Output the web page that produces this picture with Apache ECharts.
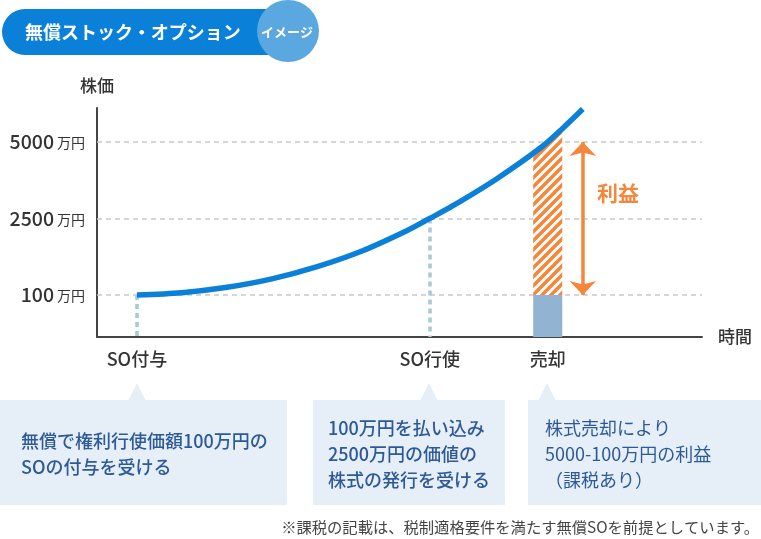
<!DOCTYPE html>
<html><head><meta charset="utf-8">
<script src="https://cdn.jsdelivr.net/npm/echarts@6/dist/echarts.min.js"></script>
<style>html,body{margin:0;padding:0;background:#fff}#c{width:761px;height:539px}</style>
</head><body><div id="c"></div>
<script>
// ---- data ----
const timeline   = [6.6, 14.0, 21.5, 28.9, 36.4, 43.8, 51.2, 55.0, 58.7, 66.1, 73.6, 77.0, 80.3];
const priceLevel = [1.00, 1.03, 1.10, 1.21, 1.37, 1.575, 1.84, 2.00, 2.16, 2.52, 2.94, 3.18, 3.43];
const priceTicks    = [1, 2, 3];
const priceTickNums = ['100', '2500', '5000'];
const eventNames  = ['SO付与', 'SO行使', '売却'];
const eventTimes  = [6.6, 55, 74.5];
const eventLevels = [1, 2, 3];
const profitRange = [1, 3];   // 100万円 → 5000万円
const boxTexts = [
  '無償で権利行使価額100万円の\nSOの付与を受ける',
  '100万円を払い込み\n2500万円の価値の\n株式の発行を受ける',
  '株式売却により\n5000-100万円の利益\n（課税あり）'
];

// ---- styles / layout constants ----
const FONT = '"Noto Sans CJK JP", "Noto Sans", sans-serif';
const Y_MIN = 0.45, Y_MAX = 3.444, X_MIN = 0, X_MAX = 100;
const BAR_HALF = 2.4;
const ARROW_X = 80.3;
const BLUE = '#0a80d8', ORANGE = '#f5873c';

function curveAt(t) {
  for (let i = 0; i < timeline.length - 1; i++) {
    if (t >= timeline[i] && t <= timeline[i + 1]) {
      const f = (t - timeline[i]) / (timeline[i + 1] - timeline[i]);
      return priceLevel[i] + f * (priceLevel[i + 1] - priceLevel[i]);
    }
  }
  return priceLevel[priceLevel.length - 1];
}

// hatch pattern
const pat = document.createElement('canvas');
pat.width = 9; pat.height = 9;
const g = pat.getContext('2d');
g.strokeStyle = ORANGE; g.lineWidth = 3.6; g.lineCap = 'square';
g.beginPath();
g.moveTo(-2, 11); g.lineTo(11, -2);
g.moveTo(-2, 2); g.lineTo(2, -2);
g.moveTo(7, 11); g.lineTo(11, 7);
g.stroke();

const chart = echarts.init(document.getElementById('c'), null, {renderer: 'canvas'});

const boxes = [
  {x: 0, w: 287, tip: 137, tx: 21, ty: 428, weight: 500},
  {x: 313, w: 192, tip: 429, tx: 328, ty: 415, weight: 500},
  {x: 528, w: 233, tip: 547, tx: 545, ty: 415, weight: 'normal'}
];
const boxGraphics = [];
boxes.forEach((b, i) => {
  boxGraphics.push({type: 'rect', shape: {x: b.x, y: 400, width: b.w, height: 105}, style: {fill: '#e6eff8'}});
  boxGraphics.push({type: 'polygon', shape: {points: [[b.tip - 9, 401], [b.tip, 383], [b.tip + 9, 401]]}, style: {fill: '#e6eff8'}});
  boxGraphics.push({type: 'text', x: b.tx, y: b.ty, style: {
    text: boxTexts[i], fill: '#2d5a97', fontSize: 18, fontWeight: b.weight, fontFamily: FONT,
    lineHeight: 26, verticalAlign: 'top'}});
});

const option = {
  animation: false,
  backgroundColor: '#fff',
  grid: {left: 97, right: 59, top: 108, bottom: 202, outerBoundsMode: 'none', containLabel: false},
  xAxis: {
    type: 'value', min: X_MIN, max: X_MAX,
    name: '時間', nameLocation: 'end', nameGap: 16,
    nameTextStyle: {fontSize: 17, color: '#333', fontFamily: FONT, fontWeight: 500},
    axisLine: {show: true, lineStyle: {color: '#444', width: 2}},
    axisTick: {show: false},
    splitLine: {show: false},
    axisLabel: {
      customValues: eventTimes, margin: 13,
      fontSize: 18, color: '#333', fontFamily: FONT, fontWeight: 500,
      formatter: v => { const i = eventTimes.indexOf(v); return i >= 0 ? eventNames[i] : ''; }
    }
  },
  yAxis: {
    type: 'value', min: Y_MIN, max: Y_MAX,
    name: '株価', nameLocation: 'end', nameGap: 14,
    nameTextStyle: {fontSize: 17, color: '#333', fontFamily: FONT, fontWeight: 500, align: 'center'},
    axisLine: {show: true, lineStyle: {color: '#444', width: 2}},
    axisTick: {show: false},
    splitLine: {show: false},
    axisLabel: {
      customValues: priceTicks, margin: 12,
      formatter: v => { const i = priceTicks.indexOf(v); return i >= 0 ? '{n|' + priceTickNums[i] + '}{u|万円}' : ''; },
      rich: {
        n: {fontSize: 19.5, color: '#333', fontFamily: FONT, fontWeight: 500},
        u: {fontSize: 14, color: '#333', fontFamily: FONT, padding: [2, 0, 0, 3]}
      }
    }
  },
  series: [
    { // grid lines & guide lines
      type: 'line', data: [], z: 1, silent: true,
      markLine: {
        z: 1, silent: true, symbol: ['none', 'none'], label: {show: false}, emphasis: {disabled: true},
        lineStyle: {color: '#c9c9c9', type: [5, 4], width: 1.5},
        data: priceTicks.map(v => ({yAxis: v})).concat(
          [0, 1].map(i => [
            {coord: [eventTimes[i], eventLevels[i]], lineStyle: {color: '#a7c9d8', width: 3.5, type: [5, 4]}},
            {coord: [eventTimes[i], Y_MIN]}
          ])
        )
      }
    },
    { // sale bar
      type: 'custom', z: 2, silent: true,
      data: [[eventTimes[2], eventLevels[0]]],
      renderItem(params, api) {
        const t = api.value(0), base = api.value(1);
        const xL = t - BAR_HALF, xR = t + BAR_HALF;
        const pBL = api.coord([xL, base]), pBR = api.coord([xR, base]);
        const pAx = api.coord([xL, Y_MIN]);
        const tops = [];
        const N = 16;
        for (let i = 0; i <= N; i++) {
          const x = xL + (xR - xL) * i / N;
          tops.push(api.coord([x, curveAt(x)]));
        }
        const poly = [pBL].concat(tops, [pBR]);
        return {type: 'group', children: [
          {type: 'rect', shape: {x: pBL[0], y: pBL[1], width: pBR[0] - pBL[0], height: pAx[1] - pBL[1]}, style: {fill: '#93b3d3'}},
          {type: 'polygon', shape: {points: poly}, style: {fill: '#fff'}},
          {type: 'polygon', shape: {points: poly}, style: {fill: {image: pat, repeat: 'repeat'}}}
        ]};
      }
    },
    { // price curve
      type: 'line', z: 4, clip: false, silent: true,
      data: timeline.map((t, i) => [t, priceLevel[i]]),
      smooth: 0.3, symbol: 'none',
      lineStyle: {color: BLUE, width: 5.5, cap: 'butt'}
    },
    { // profit arrow
      type: 'line', data: [], z: 5, silent: true,
      markLine: {
        z: 5, silent: true, symbol: ['arrow', 'arrow'], symbolSize: [20, 14],
        label: {show: false}, emphasis: {disabled: true},
        lineStyle: {color: ORANGE, width: 3.5, type: 'solid'},
        data: [[{coord: [ARROW_X, profitRange[0]]}, {coord: [ARROW_X, profitRange[1]]}]]
      }
    }
  ],
  graphic: [
    {type: 'rect', shape: {x: 2, y: 9, width: 290, height: 46, r: 23}, style: {fill: BLUE}},
    {type: 'circle', shape: {cx: 288, cy: 31, r: 31}, style: {fill: '#5ba8e0'}},
    {type: 'text', x: 25, y: 32, style: {text: '無償ストック・オプション', fill: '#fff', fontSize: 18, fontWeight: 'bold', fontFamily: FONT, verticalAlign: 'middle'}},
    {type: 'text', x: 287, y: 32, style: {text: 'イメージ', fill: '#fff', fontSize: 13, fontWeight: 'bold', fontFamily: FONT, align: 'center', verticalAlign: 'middle'}},
    {type: 'text', x: 597, y: 193, style: {text: '利益', fill: ORANGE, fontSize: 21, fontWeight: 'bold', fontFamily: FONT, verticalAlign: 'middle'}},
    {type: 'text', x: 759, y: 527, style: {text: '※課税の記載は、税制適格要件を満たす無償SOを前提としています。', fill: '#444', fontSize: 15.3, fontFamily: FONT, align: 'right', verticalAlign: 'middle'}}
  ].concat(boxGraphics)
};
chart.setOption(option);
</script>
</body></html>
